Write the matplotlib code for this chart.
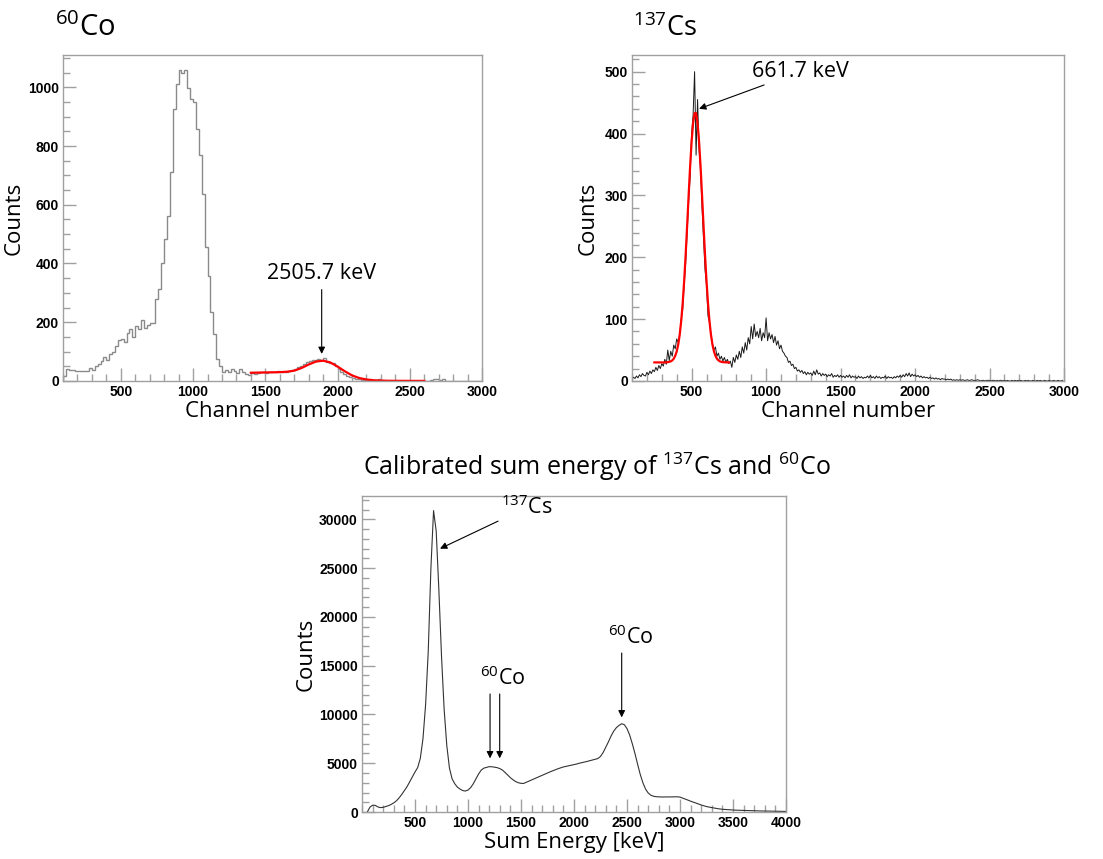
import numpy as np
import matplotlib
matplotlib.use('Agg')
import matplotlib.pyplot as plt
from matplotlib.ticker import MultipleLocator

plt.rcParams['font.family'] = ['Open Sans', 'DejaVu Sans']
plt.rcParams['mathtext.default'] = 'regular'

# 60Co spectrum, 20-channel bins from 100 to 3000
co_edges = np.arange(100, 3001, 20)
co_counts = [17, 40, 38, 36, 35, 34, 33, 35, 34, 45, 37, 51, 58, 68, 80,
             72, 91, 97, 119, 140, 142, 133, 165, 176, 151, 188, 178, 208, 182, 190,
             199, 199, 278, 312, 403, 483, 562, 710, 926, 1011, 1060, 1050, 1060, 997, 960,
             949, 858, 769, 636, 455, 358, 235, 159, 74, 51, 31, 37, 31, 40, 35,
             28, 42, 30, 23, 22,
             28, 25, 27, 30, 32, 27, 30, 29, 31, 34,
             32, 30, 31, 33, 37, 42, 48, 52, 58, 64,
             68, 72, 70, 74, 70, 78, 66, 60, 62, 50,
             42, 32, 25, 18, 12, 9, 6, 5, 4, 3,
             2, 2, 1, 4, 7, 2, 1, 0, 0, 0,
             0, 0, 0, 0, 0, 0, 0, 0, 0, 0,
             0, 0, 4, 5, 5, 4, 5, 1, 0, 0,
             0, 0, 0, 0, 0, 0, 0, 0, 0, 0]

# fit on the 60Co sum peak
co_fit_x = np.arange(1400, 2601, 50)
co_fit_y = [28, 28.5, 29, 29.5, 30, 31.5, 35, 44, 56, 66, 69, 63, 49, 33, 19,
            10, 5, 2.5, 1.2, 0.7, 0.5, 0.4, 0.3, 0.3, 0.3]

# 137Cs spectrum, every 10 channels from 100
cs_x = np.arange(100, 3000, 10)
cs_counts = [3, 6, 4, 8, 5, 10, 7, 12, 9, 8,
             14, 10, 16, 12, 18, 15, 22, 17, 25, 20,
             28, 24, 35, 27, 50, 33, 48, 40, 58, 52,
             68, 62, 75, 100, 115, 155, 190, 240, 290, 330,
             400, 430, 500, 365, 455, 375, 340, 280, 230, 180,
             155, 105, 95, 75, 60, 50, 55, 40, 45, 35,
             40, 32, 38, 30, 35, 28, 32, 22, 38, 30,
             42, 35, 48, 38, 55, 45, 62, 50, 70, 60,
             88, 68, 92, 72, 80, 70, 85, 65, 78, 70,
             102, 65, 78, 68, 75, 62, 72, 58, 65, 52,
             58, 48, 45, 40, 38, 30, 32, 25, 27, 20,
             22, 16, 18, 14, 17, 12, 15, 10, 14, 11,
             13, 9, 16, 10, 18, 11, 13, 8, 12, 9,
             11, 7, 10, 8, 12, 6, 9, 7, 10, 6,
             9, 6, 8, 5, 9, 6, 10, 5, 8, 6,
             7, 4, 8, 5, 7, 4, 6, 5, 8, 5,
             9, 5, 7, 4, 8, 5, 7, 4, 6, 5,
             8, 4, 7, 5, 6, 4, 7, 5, 8, 6,
             9, 6, 10, 7, 12, 8, 13, 7, 11, 8,
             10, 7, 9, 6, 8, 5, 7, 5, 6, 4,
             6, 4, 5, 3, 5, 3, 4, 2, 4, 3,
             3, 2, 3, 2, 3, 1, 2, 1, 2, 1,
             2, 1, 2, 1, 1, 2, 1, 1, 2, 1,
             1, 1, 2, 1, 0, 1, 1, 0, 1, 1,
             1, 0, 1, 1, 0, 1, 0, 1, 1, 0,
             1, 0, 1, 0, 0, 1, 0, 1, 0, 1,
             0, 1, 0, 0, 1, 0, 1, 0, 0, 1,
             0, 0, 1, 0, 1, 0, 0, 1, 0, 0,
             1, 0, 0, 1, 0, 0, 1, 0, 0, 1]

cs_fit_x = np.arange(250, 751, 10)
cs_fit_y = [30, 30, 30, 30, 30, 30, 30, 30, 30.2, 30.4,
            30.9, 31.7, 33.3, 36.0, 40.6, 47.8, 58.7, 74.6, 96.6, 125.5,
            161.6, 204, 251, 300, 347, 387, 417, 433, 433, 417,
            387, 347, 300, 251, 204, 161.6, 125.5, 96.6, 74.6, 58.7,
            47.8, 40.6, 36.0, 33.3, 31.7, 30.9, 30.4, 30.2, 30.1, 30, 30]

# calibrated sum energy, every 25 keV from 50
sum_e = np.arange(50, 4001, 25)
sum_counts = [0, 500, 700, 680, 520, 450, 480, 560, 650, 780,
              940, 1150, 1450, 1800, 2200, 2600, 3100, 3600, 4100, 4550,
              5500, 7500, 11000, 16500, 25000, 30900, 28800, 22800, 16000, 10500,
              6800, 4500, 3400, 2900, 2550, 2350, 2200, 2150, 2250, 2500,
              2900, 3400, 3900, 4300, 4500, 4580, 4650, 4640, 4600, 4550,
              4450, 4300, 4050, 3780, 3520, 3300, 3120, 3000, 2940, 2930,
              3050, 3180, 3300, 3420, 3540, 3650, 3760, 3880, 4000, 4120,
              4230, 4330, 4440, 4530, 4620, 4680, 4740, 4790, 4850, 4920,
              5000, 5060, 5120, 5190, 5260, 5330, 5400, 5480, 5700, 6100,
              6650, 7200, 7800, 8300, 8650, 8880, 9050, 8950, 8550, 7900,
              7000, 6000, 4900, 3850, 3000, 2350, 1950, 1720, 1620, 1570,
              1550, 1540, 1540, 1535, 1540, 1550, 1560, 1560, 1530, 1430,
              1330, 1220, 1110, 1020, 920, 820, 720, 640, 560, 500,
              450, 400, 350, 310, 280, 260, 240, 220, 200, 190,
              180, 170, 160, 150, 140, 130, 120, 115, 110, 105,
              100, 95, 90, 85, 80, 75, 70, 65, 60]

FRAME = '#a0a0a0'
TICKFONT = dict(fontfamily='Liberation Sans', fontweight='bold', fontsize=10)
LABSIZE = 16


def style(ax, xticks, yticks, xminor, yminor):
    for s in ax.spines.values():
        s.set_color(FRAME)
        s.set_linewidth(1.0)
    ax.set_xticks(xticks, [str(t) for t in xticks], **TICKFONT)
    ax.set_yticks(yticks, [str(t) for t in yticks], **TICKFONT)
    ax.xaxis.set_minor_locator(MultipleLocator(xminor))
    ax.yaxis.set_minor_locator(MultipleLocator(yminor))
    ax.tick_params(which='both', direction='in', color=FRAME, top=False, right=False)
    ax.tick_params(which='major', length=9.5, width=1.0, pad=3)
    ax.tick_params(which='minor', length=5, width=1.0)


fig = plt.figure(figsize=(11.03, 8.59), dpi=100)

# 60Co
ax1 = fig.add_axes([0.0571, 0.5565, 0.380, 0.3795])
ax1.stairs(co_counts, co_edges, color='#8a8a8a', lw=1.0)
ax1.plot(co_fit_x, co_fit_y, color='red', lw=1.6)
ax1.set_xlim(100, 3000)
ax1.set_ylim(0, 1110)
style(ax1, [500, 1000, 1500, 2000, 2500, 3000], [0, 200, 400, 600, 800, 1000], 100, 50)
ax1.set_xlabel('Channel number', fontsize=LABSIZE, labelpad=1)
ax1.set_ylabel('Counts', fontsize=LABSIZE, labelpad=2)
ax1.annotate('2505.7 keV', xy=(1890, 92), xytext=(1890, 330), ha='center', va='bottom',
             fontsize=15.5,
             arrowprops=dict(arrowstyle='-|>', color='black', lw=0.8, mutation_scale=10,
                             shrinkA=2, shrinkB=0))
fig.text(0.050, 0.967, r'$^{60}$Co', fontsize=21, ha='left', va='center')

# 137Cs
ax2 = fig.add_axes([0.573, 0.5565, 0.3917, 0.3795])
ax2.plot(cs_x, cs_counts, color='#1a1a1a', lw=0.7)
ax2.plot(cs_fit_x, cs_fit_y, color='red', lw=1.6)
ax2.set_xlim(100, 3000)
ax2.set_ylim(0, 527)
style(ax2, [500, 1000, 1500, 2000, 2500, 3000], [0, 100, 200, 300, 400, 500], 100, 20)
ax2.set_xlabel('Channel number', fontsize=LABSIZE, labelpad=1)
ax2.set_ylabel('Counts', fontsize=LABSIZE, labelpad=4)
ax2.annotate('661.7 keV', xy=(550, 440), xytext=(905, 500), ha='left', va='center',
             fontsize=15.5,
             arrowprops=dict(arrowstyle='-|>', color='black', lw=0.8, mutation_scale=10,
                             shrinkA=0, shrinkB=0))
fig.text(0.574, 0.967, r'$^{137}$Cs', fontsize=19.5, ha='left', va='center')

# calibrated sum energy
ax3 = fig.add_axes([0.3282, 0.0547, 0.3844, 0.3679])
ax3.plot(sum_e, sum_counts, color='#333333', lw=0.8)
ax3.set_xlim(0, 4000)
ax3.set_ylim(0, 32400)
style(ax3, [500, 1000, 1500, 2000, 2500, 3000, 3500, 4000],
      [0, 5000, 10000, 15000, 20000, 25000, 30000], 100, 1000)
ax3.set_xlabel('Sum Energy [keV]', fontsize=LABSIZE, labelpad=1)
ax3.set_ylabel('Counts', fontsize=LABSIZE, labelpad=2)
arrow = dict(arrowstyle='-|>', color='black', lw=0.8, mutation_scale=10, shrinkA=0, shrinkB=0)
ax3.annotate(r'$^{137}$Cs', xy=(736, 27000), xytext=(1310, 30000), ha='left', va='bottom',
             fontsize=15.5, arrowprops=arrow)
ax3.text(1330, 12500, r'$^{60}$Co', ha='center', va='bottom', fontsize=15.5)
ax3.annotate('', xy=(1208, 5500), xytext=(1208, 12100), arrowprops=arrow)
ax3.annotate('', xy=(1299, 5500), xytext=(1299, 12100), arrowprops=arrow)
ax3.text(2535, 16700, r'$^{60}$Co', ha='center', va='bottom', fontsize=15.5)
ax3.annotate('', xy=(2450, 9700), xytext=(2450, 16300), arrowprops=arrow)
fig.text(0.329, 0.456, r'Calibrated sum energy of $^{137}$Cs and $^{60}$Co',
         fontsize=18, ha='left', va='center')

fig.savefig('out.png', dpi=100)
